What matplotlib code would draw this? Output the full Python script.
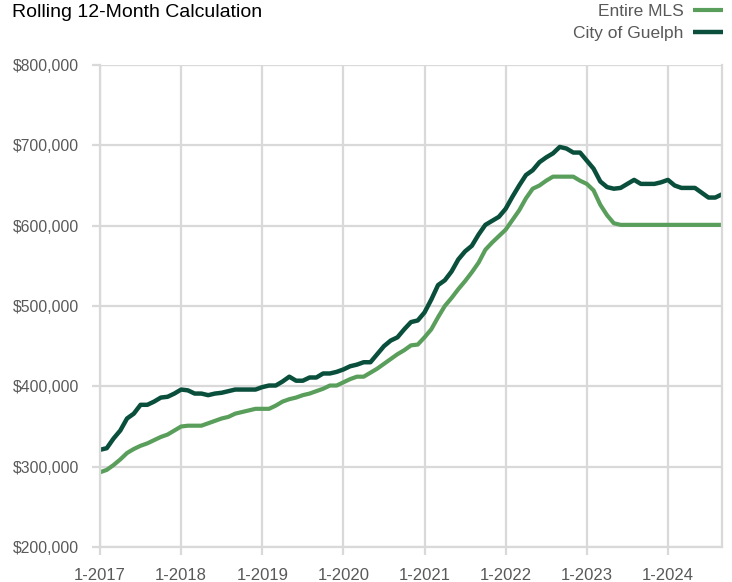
import numpy as np
import matplotlib.pyplot as plt
from matplotlib.ticker import FuncFormatter

# Rolling 12-month average price, monthly from 1-2017 to 9-2024 (in $000)
guelph = [
    321, 323, 335, 345, 360, 366, 377, 377, 381, 386, 387, 391,   # 2017
    396, 395, 391, 391, 389, 391, 392, 394, 396, 396, 396, 396,   # 2018
    399, 401, 401, 406, 412, 407, 407, 411, 411, 416, 416, 418,   # 2019
    421, 425, 427, 430, 430, 440, 450, 457, 461, 471, 480, 482,   # 2020
    492, 508, 526, 532, 543, 558, 568, 575, 589, 601, 606, 611,   # 2021
    621, 636, 650, 663, 669, 679, 685, 690, 698, 696, 691, 691,   # 2022
    681, 671, 655, 648, 646, 647, 652, 657, 652, 652, 652, 654,   # 2023
    657, 650, 647, 647, 647, 641, 635, 635, 639,                  # 2024
]
mls = [
    293, 296, 302, 309, 317, 322, 326, 329, 333, 337, 340, 345,   # 2017
    350, 351, 351, 351, 354, 357, 360, 362, 366, 368, 370, 372,   # 2018
    372, 372, 376, 381, 384, 386, 389, 391, 394, 397, 401, 401,   # 2019
    405, 409, 412, 412, 417, 422, 428, 434, 440, 445, 451, 452,   # 2020
    461, 471, 486, 500, 510, 521, 531, 542, 554, 570, 579, 587,   # 2021
    595, 607, 619, 634, 646, 650, 656, 661, 661, 661, 661, 656,   # 2022
    652, 644, 626, 613, 603, 601, 601, 601, 601, 601, 601, 601,   # 2023
    601, 601, 601, 601, 601, 601, 601, 601, 601,                  # 2024
]
years = [2017, 2018, 2019, 2020, 2021, 2022, 2023, 2024]
year_labels = ['1-%d' % y for y in years]

guelph = np.array(guelph) * 1000
mls = np.array(mls) * 1000
months = np.arange(len(guelph))

LIGHT = '#5a9e5c'
DARK = '#0a4f3b'
GRID = '#d9d9d9'
TXT = '#595959'

plt.rcParams['font.family'] = ['Liberation Sans Narrow', 'Liberation Sans', 'DejaVu Sans']

fig = plt.figure(figsize=(7.32, 5.82), dpi=100)
ax = fig.add_axes([100/732, 1 - 547/582, 622/732, 482/582])

ax.plot(months, mls, color=LIGHT, lw=3, label='Entire MLS', solid_capstyle='butt')
ax.plot(months, guelph, color=DARK, lw=3.2, label='City of Guelph', solid_capstyle='butt')

ax.set_xlim(0, len(months) - 1)
ax.set_ylim(200000, 800000)
ax.set_xticks([12 * i for i in range(len(years))])
ax.set_xticklabels(year_labels)
ax.set_yticks(np.arange(200000, 800001, 100000))
ax.yaxis.set_major_formatter(FuncFormatter(lambda v, p: '${:,.0f}'.format(v)))

ax.grid(True, color=GRID, lw=1.6)
ax.set_axisbelow(True)
for s in ['left', 'bottom', 'right']:
    ax.spines[s].set_color(GRID)
    ax.spines[s].set_linewidth(1.6)
ax.spines['top'].set_visible(False)
ax.tick_params(axis='both', colors=GRID, length=6, width=1.6, labelcolor=TXT)
ax.tick_params(axis='y', pad=9, labelsize=11.3)
ax.tick_params(axis='x', pad=9, labelsize=12)

fig.text(12/732, 1 - 17/582, 'Rolling 12-Month Calculation', fontsize=14, color='black', va='baseline')

leg = fig.legend(loc='upper right', bbox_to_anchor=(0.988, 0.993), frameon=False,
                 markerfirst=False, fontsize=12.5, labelcolor=TXT, handlelength=1.75,
                 handletextpad=0.55, labelspacing=0.4, borderaxespad=0, borderpad=0)

fig.savefig('out.png', dpi=100)
